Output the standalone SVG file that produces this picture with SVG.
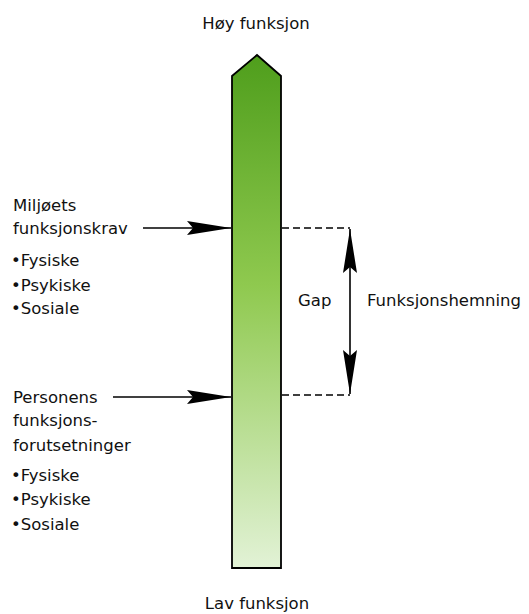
<svg xmlns="http://www.w3.org/2000/svg" width="529" height="614" viewBox="0 0 529 614">
<defs>
<linearGradient id="g" x1="0" y1="0" x2="0" y2="1">
<stop offset="0" stop-color="#4f9e1c"/>
<stop offset="0.45" stop-color="#8fc94f"/>
<stop offset="1" stop-color="#e2f2d6"/>
</linearGradient>
<marker id="ah" viewBox="0 0 44 16" refX="44" refY="8" markerWidth="44" markerHeight="16" markerUnits="userSpaceOnUse" orient="auto-start-reverse">
<path d="M0,1 L44,8 L0,15 L6,8 Z" fill="#000"/>
</marker>
</defs>
<style>
text{font-family:"DejaVu Sans",sans-serif;font-size:16.5px;fill:#111}
.ln{stroke:#000;stroke-width:1.6;fill:none}
.ds{stroke:#000;stroke-width:1.4;fill:none;stroke-dasharray:7,4}
</style>
<g id="bar">
<path d="M232,568 L232,76 L257,55 L281,76 L281,568 Z" fill="url(#g)" stroke="#000" stroke-width="1.8"/>
</g>
<g id="top-label"><text x="256" y="29" text-anchor="middle">Høy funksjon</text></g>
<g id="bottom-label"><text x="257" y="609" text-anchor="middle">Lav funksjon</text></g>
<g id="miljo">
<text x="13" y="211">Miljøets</text>
<text x="13" y="234">funksjonskrav</text>
<text x="11" y="266">•Fysiske</text>
<text x="11" y="291">•Psykiske</text>
<text x="11" y="314">•Sosiale</text>
</g>
<g id="person">
<text x="13" y="403">Personens</text>
<text x="13" y="426">funksjons-</text>
<text x="13" y="451">forutsetninger</text>
<text x="11" y="481">•Fysiske</text>
<text x="11" y="505">•Psykiske</text>
<text x="11" y="530">•Sosiale</text>
</g>
<g id="gap"><text x="298" y="306">Gap</text></g>
<g id="funksjonshemning"><text x="367" y="306">Funksjonshemning</text></g>
<g id="connectors">
<line class="ln" x1="143" y1="228" x2="231" y2="228" marker-end="url(#ah)"/>
<line class="ln" x1="113" y1="397" x2="231" y2="397" marker-end="url(#ah)"/>
<path class="ds" d="M282,228 L350,228 M282,395 L350,395"/>
<line class="ln" x1="350" y1="229" x2="350" y2="394" marker-start="url(#ah)" marker-end="url(#ah)"/>
</g>
</svg>
